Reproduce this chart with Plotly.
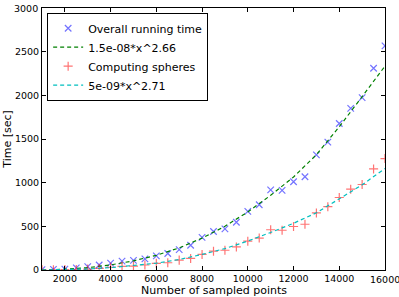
import plotly.graph_objects as go

# Data
x_pts = [1000, 1500, 2000, 2500, 3000, 3500, 4000, 4500, 5000, 5500, 6000, 6500,
         7000, 7500, 8000, 8500, 9000, 9500, 10000, 10500, 11000, 11500, 12000,
         12500, 13000, 13500, 14000, 14500, 15000, 15500, 16000]
overall = [5, 8, 10, 25, 38, 57, 79, 102, 110, 128, 162, 189, 234, 283, 374, 441,
           470, 547, 672, 747, 918, 912, 1011, 1068, 1318, 1465, 1677, 1850, 1974,
           2310, 2567]
spheres = [2, 3, 4, 6, 11, 19, 30, 41, 45, 57, 76, 83, 113, 132, 178, 215, 226,
           264, 330, 366, 461, 455, 498, 524, 653, 725, 830, 925, 979, 1157, 1276]

x_fit = [1000, 1500, 2000, 3000, 4000, 5000, 6000, 7000, 8000, 9000, 10000, 11000,
         12000, 13000, 14000, 15000, 16000]
fit_overall = [1, 4, 9, 27, 58, 105, 168, 253, 365, 500, 665, 855, 1065, 1320,
               1640, 1985, 2335]
fit_spheres = [0, 2, 4, 12, 27, 50, 78, 120, 178, 245, 332, 430, 535, 655, 812,
               975, 1162]

x_ticks = [2000, 4000, 6000, 8000, 10000, 12000, 14000, 16000]
y_ticks = [0, 500, 1000, 1500, 2000, 2500, 3000]

labels = ["Overall running time", "1.5e-08*x^2.66", "Computing spheres", "5e-09*x^2.71"]

fig = go.Figure()
fig.add_trace(go.Scatter(x=x_pts, y=overall, mode="markers", name=labels[0],
                         marker=dict(symbol="x-thin-open", size=6.5, color="rgba(0,0,255,0.55)",
                                     line=dict(width=1.2, color="rgba(0,0,255,0.55)"))))
fig.add_trace(go.Scatter(x=x_fit, y=fit_overall, mode="lines", name=labels[1],
                         line=dict(color="#008000", width=1.2, dash="4px,3px")))
fig.add_trace(go.Scatter(x=x_pts, y=spheres, mode="markers", name=labels[2],
                         marker=dict(symbol="cross-thin-open", size=6.5, color="rgba(255,0,0,0.55)",
                                     line=dict(width=1.2, color="rgba(255,0,0,0.55)"))))
fig.add_trace(go.Scatter(x=x_fit, y=fit_spheres, mode="lines", name=labels[3],
                         line=dict(color="#00bfbf", width=1.2, dash="4px,3px")))

tick_font = dict(family="DejaVu Sans", size=9.5, color="black")
axis_common = dict(showline=True, linecolor="black", linewidth=1, mirror="allticks",
                   ticks="inside", ticklen=4, tickcolor="black", showgrid=False,
                   zeroline=False, automargin=False, tickfont=tick_font)

# last tick labels placed as annotations so they are not dropped at the figure edge
x_ticktext = [str(v) for v in x_ticks[:-1]] + [""]
y_ticktext = [str(v) for v in y_ticks[:-1]] + [""]

fig.update_layout(
    width=399, height=297,
    margin=dict(l=42, r=14, t=8, b=27),
    paper_bgcolor="white", plot_bgcolor="white",
    font=dict(family="DejaVu Sans", color="black"),
    xaxis=dict(range=[1000, 16000], tickvals=x_ticks, ticktext=x_ticktext, **axis_common),
    yaxis=dict(range=[0, 3000], tickvals=y_ticks, ticktext=y_ticktext, **axis_common),
    legend=dict(x=0.015, y=0.982, xanchor="left", yanchor="top",
                bordercolor="black", borderwidth=1, bgcolor="white",
                font=dict(family="DejaVu Sans", size=11), tracegroupgap=0,
                itemwidth=30),
    showlegend=True,
    annotations=[
        dict(text=str(x_ticks[-1]), xref="x", yref="paper", x=x_ticks[-1], y=0,
             yshift=-2, xanchor="center", yanchor="top", showarrow=False, font=tick_font),
        dict(text=str(y_ticks[-1]), xref="paper", yref="y", x=0, y=y_ticks[-1],
             xshift=-2, xanchor="right", yanchor="middle", showarrow=False, font=tick_font),
        dict(text="Number of sampled points", xref="paper", yref="paper",
             x=0.5, y=-0.047, xanchor="center", yanchor="top", showarrow=False,
             font=dict(family="DejaVu Sans", size=11, color="black")),
        dict(text="Time [sec]", xref="paper", yref="paper", textangle=-90,
             x=-0.078, y=0.5, xanchor="right", yanchor="middle", showarrow=False,
             font=dict(family="DejaVu Sans", size=11, color="black")),
    ],
)

fig.write_html("out.html", config={"displayModeBar": False},
               post_script="document.body.style.margin='0';document.body.style.overflow='hidden';")
